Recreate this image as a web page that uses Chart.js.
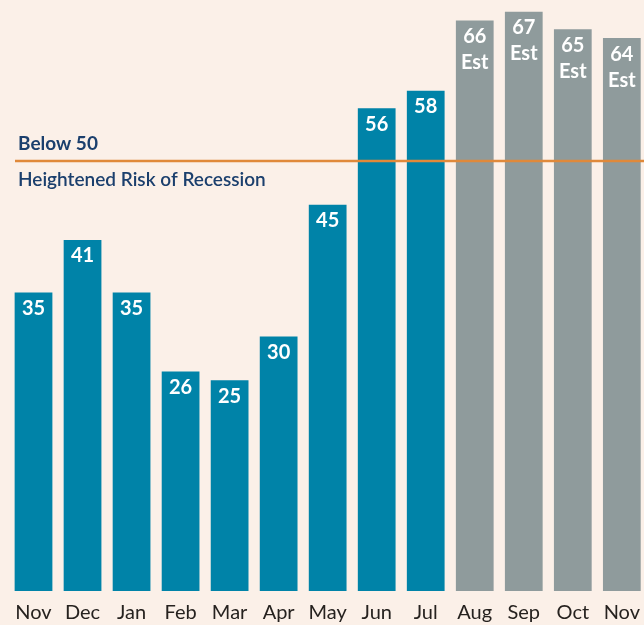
<!DOCTYPE html>
<html>
<head>
<meta charset="utf-8">
<script src="https://cdn.jsdelivr.net/npm/chart.js@4/dist/chart.umd.min.js"></script>
<style>
  html, body { margin: 0; padding: 0; background: #fbf0e8; overflow: hidden; }
  #wrap { width: 650px; height: 635px; position: relative; }
</style>
</head>
<body>
<div id="wrap"><canvas id="c"></canvas></div>
<script>
const categories = ["Nov", "Dec", "Jan", "Feb", "Mar", "Apr", "May", "Jun", "Jul", "Aug", "Sep", "Oct", "Nov"];
const values = [35, 41, 35, 26, 25, 30, 45, 56, 58, 66, 67, 65, 64];
const isEstimate = [false, false, false, false, false, false, false, false, false, true, true, true, true];
const thresholdValue = 50;
const thresholdLabelAbove = "Below 50";
const thresholdLabelBelow = "Heightened Risk of Recession";
const estimateSuffix = "Est";

const BLUE = "#0083a8";
const GRAY = "#8f9b9c";
const NAVY = "#1b3f6d";
const ORANGE = "#e0893a";

const overlay = {
  id: "overlay",
  afterDatasetsDraw(chart) {
    const ctx = chart.ctx;
    const y = chart.scales.y.getPixelForValue(thresholdValue);
    ctx.save();
    // value labels
    const meta = chart.getDatasetMeta(0);
    ctx.fillStyle = "#ffffff";
    ctx.textAlign = "center";
    ctx.textBaseline = "middle";
    ctx.font = "bold 20px Lato, 'Open Sans', sans-serif";
    meta.data.forEach((bar, i) => {
      const top = bar.y;
      ctx.fillText(String(values[i]), bar.x, top + 16);
      if (isEstimate[i]) {
        ctx.fillText(estimateSuffix, bar.x, top + 42);
      }
    });
    // threshold line
    ctx.strokeStyle = ORANGE;
    ctx.lineWidth = 2.5;
    ctx.beginPath();
    ctx.moveTo(15, y);
    ctx.lineTo(chart.width, y);
    ctx.stroke();
    // threshold text
    ctx.fillStyle = NAVY;
    ctx.textAlign = "left";
    ctx.textBaseline = "middle";
    ctx.font = "bold 19px Lato, 'Open Sans', sans-serif";
    ctx.fillText(thresholdLabelAbove, 18, y - 17);
    ctx.font = "600 19px Lato, 'Open Sans', sans-serif";
    ctx.fillText(thresholdLabelBelow, 18, y + 19);
    ctx.restore();
  }
};

new Chart(document.getElementById("c"), {
  type: "bar",
  data: {
    labels: categories,
    datasets: [{
      data: values,
      backgroundColor: isEstimate.map(e => e ? GRAY : BLUE),
      borderWidth: 0,
      barPercentage: 0.77,
      categoryPercentage: 1.0
    }]
  },
  options: {
    responsive: true,
    maintainAspectRatio: false,
    animation: false,
    layout: { padding: { left: 9, right: 0, top: 3, bottom: 0 } },
    plugins: { legend: { display: false }, tooltip: { enabled: false } },
    scales: {
      x: {
        grid: { display: false, drawTicks: false },
        border: { display: false },
        ticks: {
          color: "#26221f",
          font: { family: "Lato, 'Open Sans', sans-serif", size: 20 },
          padding: 10,
          maxRotation: 0,
          autoSkip: false
        }
      },
      y: {
        display: false,
        min: 1,
        max: 68
      }
    }
  },
  plugins: [overlay]
});
</script>
</body>
</html>
